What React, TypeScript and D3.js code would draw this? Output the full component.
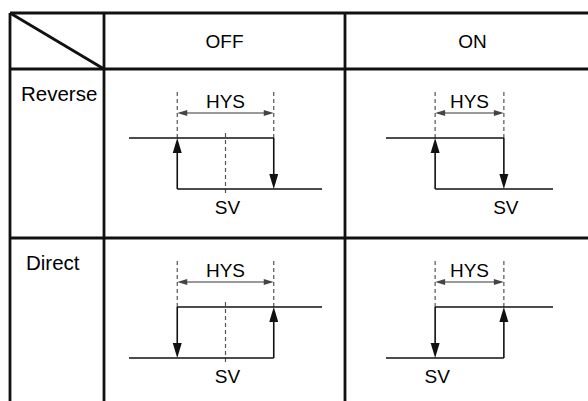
import * as React from "react";
import { scaleLinear, line as d3Line } from "d3";

// table headings
const columns = ["OFF", "ON"];
const rows = ["Reverse", "Direct"];

// hysteresis band edges relative to SV (HYS = 2 units), [row][column]
const bandEdges = [
  [[-1, 1], [-2, 0]],
  [[-1, 1], [0, 2]],
];
// how far the output trace runs past the band on each side, per column
const traceReach = [1, 1.43];
// dashed SV marker is only drawn in the OFF column
const showSvMarker = [true, false];
// output level on the low-PV side of each row (Reverse: ON below SV)
const lowSideLevel = [1, 0];

const hysLabel = "HYS";
const svLabel = "SV";

// layout
const W = 588;
const H = 401;
const tableLeft = 10;
const tableTop = 13;
const headerBottom = 69;
const colEdges = [104, 345, 600];
const rowEdges = [69, 238, 407];
const rowLabelX = [21, 26];
const tracePad = [
  [25, 23],
  [41, 47],
];
const font = "'Liberation Sans', Arial, Helvetica, sans-serif";

type Pt = [number, number];

const arrowHead = (tx: number, ty: number, dx: number, dy: number, len: number, half: number) => {
  const bx = tx - dx * len;
  const by = ty - dy * len;
  const nx = -dy;
  const ny = dx;
  return `M${tx},${ty}L${bx + nx * half},${by + ny * half}L${bx - nx * half},${by - ny * half}Z`;
};

const Cell = ({ r, c }: { r: number; c: number }) => {
  const top = rowEdges[r];
  const band = bandEdges[r][c];
  const reach = traceReach[c];
  const x = scaleLinear()
    .domain([band[0] - reach, band[1] + reach])
    .range([colEdges[c] + tracePad[c][0], colEdges[c + 1] - tracePad[c][1]]);
  const y = scaleLinear().domain([0, 1]).range([top + 120, top + 69]);
  const line = d3Line<Pt>()
    .x((p) => x(p[0]))
    .y((p) => y(p[1]));

  const d0 = x.domain()[0];
  const d1 = x.domain()[1];
  const lo = lowSideLevel[r];
  const hi = 1 - lo;

  const levels: Pt[][] = [
    [
      [d0, lo],
      [band[1], lo],
    ],
    [
      [band[0], hi],
      [d1, hi],
    ],
  ];
  // switching edges: [pv, from, to]
  const edges = [
    [band[1], lo, hi],
    [band[0], hi, lo],
  ];

  const hysY = top + 44;
  const xa = x(band[0]);
  const xb = x(band[1]);

  return (
    <g>
      {band.map((b, i) => (
        <line
          key={"bd" + i}
          x1={x(b)}
          x2={x(b)}
          y1={top + 23}
          y2={y(1)}
          stroke="#555"
          strokeWidth={1.2}
          strokeDasharray="4,3"
        />
      ))}
      {showSvMarker[c] && (
        <line
          x1={x(0)}
          x2={x(0)}
          y1={top + 64}
          y2={top + 126}
          stroke="#555"
          strokeWidth={1.2}
          strokeDasharray="4,3"
        />
      )}
      <line x1={xa + 6} x2={xb - 6} y1={hysY} y2={hysY} stroke="#777" strokeWidth={1.5} />
      <path d={arrowHead(xa, hysY, -1, 0, 10, 3)} fill="#444" />
      <path d={arrowHead(xb, hysY, 1, 0, 10, 3)} fill="#444" />
      <text
        x={(xa + xb) / 2}
        y={top + 39}
        textAnchor="middle"
        fontSize={19}
        fontFamily={font}
        fill="#000"
      >
        {hysLabel}
      </text>
      {levels.map((seg, i) => (
        <path key={"lv" + i} d={line(seg) || ""} fill="none" stroke="#111" strokeWidth={1.6} />
      ))}
      {edges.map(([pv, from, to], i) => {
        const dir = y(to) > y(from) ? 1 : -1;
        return (
          <g key={"ed" + i}>
            <line
              x1={x(pv)}
              x2={x(pv)}
              y1={y(from)}
              y2={y(to) - dir * 8}
              stroke="#111"
              strokeWidth={1.6}
            />
            <path d={arrowHead(x(pv), y(to), 0, dir, 15, 4.5)} fill="#111" />
          </g>
        );
      })}
      <text
        x={x(0) + 2}
        y={top + 145}
        textAnchor="middle"
        fontSize={19}
        fontFamily={font}
        fill="#000"
      >
        {svLabel}
      </text>
    </g>
  );
};

const App = () => {
  const sw = 2.8;
  return (
    <svg
      width={W}
      height={H}
      style={{ position: "absolute", left: 0, top: 0, background: "#fff" }}
    >
      {/* table grid */}
      <g stroke="#111" strokeWidth={sw}>
        <line x1={tableLeft} x2={W + 20} y1={tableTop} y2={tableTop} />
        {[headerBottom, rowEdges[1]].map((yy, i) => (
          <line key={"h" + i} x1={tableLeft} x2={W + 20} y1={yy} y2={yy} />
        ))}
        <line x1={tableLeft} x2={tableLeft} y1={tableTop} y2={H + 20} />
        {colEdges.map((xx, i) => (
          <line key={"v" + i} x1={xx} x2={xx} y1={tableTop} y2={H + 20} />
        ))}
        <line x1={tableLeft} y1={tableTop} x2={colEdges[0]} y2={headerBottom} />
      </g>
      {columns.map((name, c) => (
        <text
          key={name}
          x={(colEdges[c] + colEdges[c + 1]) / 2}
          y={(tableTop + headerBottom) / 2 + 7}
          textAnchor="middle"
          fontSize={19}
          fontFamily={font}
          fill="#000"
        >
          {name}
        </text>
      ))}
      {rows.map((name, r) => (
        <text
          key={name}
          x={rowLabelX[r]}
          y={rowEdges[r] + 32}
          fontSize={20.5}
          fontFamily={font}
          fill="#000"
        >
          {name}
        </text>
      ))}
      {rows.map((_, r) => columns.map((__, c) => <Cell key={r + "-" + c} r={r} c={c} />))}
    </svg>
  );
};

export default App;
